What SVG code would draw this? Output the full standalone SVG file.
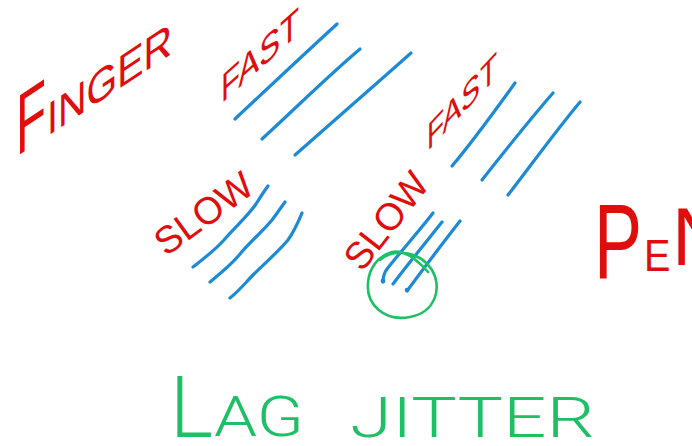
<svg xmlns="http://www.w3.org/2000/svg" width="692" height="446" viewBox="0 0 692 446">
  <style>
    .red { fill: #e00d0d; font-family: "Liberation Sans", Arial, sans-serif; font-weight: 400; }
    .grn { fill: #1fbf66; font-family: Roboto, "Open Sans", "Liberation Sans", sans-serif; font-weight: 300; }
    .blue { fill: none; stroke: #1d8ad6; stroke-width: 3.2; stroke-linecap: round; stroke-linejoin: round; }
    .loop { fill: none; stroke: #1fbf66; stroke-width: 2.6; stroke-linecap: round; }
  </style>
  <rect width="692" height="446" fill="#ffffff"/>

  <!-- red labels -->
  <g id="finger" transform="translate(16,157) skewY(-33.5)">
    <text class="red" x="0" y="0" font-size="86" textLength="30" lengthAdjust="spacingAndGlyphs">F</text>
    <text class="red" x="31" y="0" font-size="46" textLength="125" lengthAdjust="spacingAndGlyphs">INGER</text>
  </g>
  <g id="fast-top" transform="translate(221,104) skewY(-42)">
    <text class="red" x="0" y="0" font-size="40" textLength="78" lengthAdjust="spacingAndGlyphs">FAST</text>
  </g>
  <g id="slow-left" transform="translate(166,257) rotate(-36)">
    <text class="red" x="0" y="0" font-size="38" textLength="112" lengthAdjust="spacingAndGlyphs">SLOW</text>
  </g>
  <g id="slow-mid" transform="translate(362,273) rotate(-52)">
    <text class="red" x="0" y="0" font-size="38" textLength="112" lengthAdjust="spacingAndGlyphs">SLOW</text>
  </g>
  <g id="fast-mid" transform="translate(427,152) skewY(-47)">
    <text class="red" x="0" y="0" font-size="38" textLength="70" lengthAdjust="spacingAndGlyphs">FAST</text>
  </g>
  <g id="pen">
    <text class="red" transform="translate(594,278) scale(0.68,1)" font-size="106">P</text>
    <text class="red" transform="translate(644,271) scale(0.9,1)" font-size="44">E</text>
    <text class="red" transform="translate(672,265) scale(0.95,1)" font-size="82">N</text>
  </g>

  <!-- blue stroke bundles -->
  <g id="strokes">
    <path class="blue" d="M235,119 C268,88 300,58 337,24"/>
    <path class="blue" d="M262,139 C298,106 328,76 360,49"/>
    <path class="blue" d="M295,155 C338,117 374,86 411,53"/>

    <path class="blue" d="M193,267 C206,257 216,249 224,240 C234,228 248,216 256,204 C261,196 265,190 268,186"/>
    <path class="blue" d="M210,282 C222,272 232,264 240,254 C250,242 262,232 272,220 C278,212 282,206 285,202"/>
    <path class="blue" d="M230,298 C240,290 246,282 254,274 C266,262 278,252 288,240 C295,230 299,220 302,213"/>

    <path class="blue" d="M452,166 C474,140 494,112 515,83"/>
    <path class="blue" d="M482,180 C504,152 526,124 553,93"/>
    <path class="blue" d="M508,195 C532,164 555,132 580,102"/>

    <path class="blue" d="M383,282 C383,276 384,273 387,269 C402,250 420,230 433,213"/>
    <path class="blue" d="M393,284 C408,264 426,242 442,222"/>
    <path class="blue" d="M407,291 C424,268 442,244 460,221"/>
    <circle cx="383" cy="281" r="2.4" fill="#1d8ad6"/>
    <circle cx="407" cy="290" r="2.3" fill="#1d8ad6"/>
  </g>

  <!-- green ring and caption -->
  <g id="ring">
    <path class="loop" d="M380,260 C394,248 420,251 432,270 C442,288 436,312 410,317 C384,322 366,304 368,283 C369,268 378,256 392,252 C402,250 414,256 428,272"/>
  </g>
  <g id="caption">
    <text class="grn" x="170" y="437" font-size="86" textLength="43" lengthAdjust="spacingAndGlyphs">L</text>
    <text class="grn" x="214" y="436" font-size="55" textLength="90" lengthAdjust="spacingAndGlyphs">AG</text>
    <text class="grn" x="350" y="437" font-size="55" textLength="245" lengthAdjust="spacingAndGlyphs">JITTER</text>
  </g>
</svg>
